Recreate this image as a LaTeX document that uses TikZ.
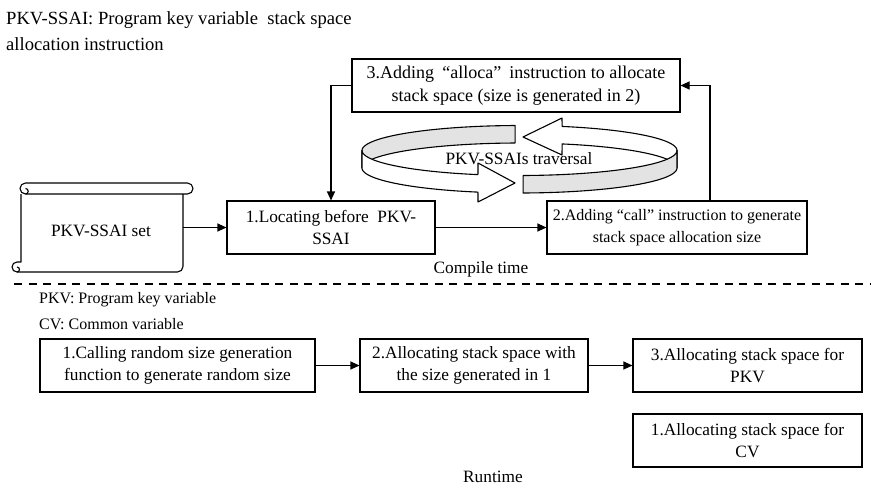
\documentclass[tikz,border=0pt]{standalone}
\usepackage{fontspec}
\setmainfont{Liberation Serif}
\usetikzlibrary{arrows.meta}
\begin{document}
\begin{tikzpicture}[x=1pt,y=-1pt,
  every node/.style={font=\fontsize{17.3}{21.5}\selectfont},
  box/.style={draw,line width=1.1pt,minimum height=53pt,align=center,inner sep=0pt},
  conn/.style={draw,line width=1.1pt,-{Triangle[length=9pt,width=8pt]}},
  plain/.style={anchor=west,inner sep=0pt},
  ring/.style={draw,line width=1.1pt,line join=round},
  grayband/.style={ring,fill=gray!22},
  whiteband/.style={ring,fill=white}]
\useasboundingbox (0,0) rectangle (871,488);

% legend texts
\node[plain,font=\fontsize{18.6}{22}\selectfont] (t1) at (6,20) {PKV-SSAI: Program key variable\ \ stack space};
\node[plain,font=\fontsize{18.6}{22}\selectfont] (t2) at (6,44) {allocation instruction};

% boxes (compile time)
\node[box,minimum width=328pt,font=\fontsize{18}{22.5}\selectfont] (b3) at (516,85.5) {3.Adding\hspace{0.45em}“alloca”\hspace{0.45em}instruction to allocate\\stack space (size is generated in 2)};
\node[box,minimum width=208pt] (b1) at (331,227.5) {1.Locating before\ \ PKV-\\SSAI};
\node[box,minimum width=260pt,font=\fontsize{16}{21.5}\selectfont] (b2) at (677,227.5) {2.Adding “call” instruction to generate\\stack space allocation size};

% scroll
\node[minimum width=162pt,minimum height=89pt,inner sep=0pt] (sc) at (102,227.5) {};
\node (sctext) at (101,231) {PKV-SSAI set};
\draw[line width=1.1pt,line join=round]
  (25.5,183) -- (187.5,183) arc[start angle=270,end angle=450,radius=5.5]
  -- (25.5,194) arc[start angle=90,end angle=270,radius=5.5] -- cycle;
\draw[line width=1.1pt] (25.5,188.5) arc[start angle=270,end angle=450,radius=2.75];
\draw[line width=1.1pt,line join=round]
  (183,194) -- (183,266.5) arc[start angle=0,end angle=90,radius=5.5]
  -- (17,272) arc[start angle=90,end angle=270,radius=5] -- (21,262) -- (21,194);
\draw[line width=1.1pt] (17,267) arc[start angle=270,end angle=450,radius=2.5];

% ring arrows
\def\cx{519.5}\def\ea{157.5}\def\eb{25}\def\yt{150.5}\def\yb{168}
\path[grayband] plot[domain=91.6:180,samples=40] ({\cx+\ea*cos(\x)},{\yt-\eb*sin(\x)})
  -- plot[domain=180:91.6,samples=40] ({\cx+\ea*cos(\x)},{\yb-\eb*sin(\x)}) -- cycle;
\path[whiteband] plot[domain=180:254.7,samples=40] ({\cx+\ea*cos(\x)},{\yt-\eb*sin(\x)})
  -- (478,163) -- (515,183) -- (478,202)
  -- plot[domain=254.7:180,samples=40] ({\cx+\ea*cos(\x)},{\yb-\eb*sin(\x)}) -- cycle;
\path[whiteband] plot[domain=0:74.3,samples=40] ({\cx+\ea*cos(\x)},{\yt-\eb*sin(\x)})
  -- (562,118) -- (523,137) -- (562,155)
  -- plot[domain=74.3:0,samples=40] ({\cx+\ea*cos(\x)},{\yb-\eb*sin(\x)}) -- cycle;
\path[grayband] plot[domain=271.3:360,samples=40] ({\cx+\ea*cos(\x)},{\yt-\eb*sin(\x)})
  -- plot[domain=360:271.3,samples=40] ({\cx+\ea*cos(\x)},{\yb-\eb*sin(\x)}) -- cycle;
\node (trav) at (519,159) {PKV-SSAIs traversal};

% compile-time connectors
\draw[conn] (sc.east) -- (b1.west);
\draw[conn] (b1.east) -- (b2.west);
\draw[conn] ([xshift=33pt]b2.north) |- (b3.east);
\draw[conn] (b3.west) -| (b1.north);

\node (ct) at (481,269) {Compile time};
\draw[line width=1.3pt,dash pattern=on 8pt off 6.5pt] (14,284) -- (871,284);

\node[plain,font=\fontsize{16}{20}\selectfont] (t3) at (39,300) {PKV: Program key variable};
\node[plain,font=\fontsize{16}{20}\selectfont] (t4) at (39,324) {CV: Common variable};

% runtime boxes
\node[box,minimum width=275pt] (ra) at (177.5,365.5) {1.Calling random size generation\\function to generate random size};
\node[box,minimum width=228pt] (rb) at (474,365.5) {2.Allocating stack space with\\the size generated in 1};
\node[box,minimum width=229pt] (rc) at (747.5,365.5) {3.Allocating stack space for\\PKV};
\node[box,minimum width=229pt] (rd) at (747.5,440.5) {1.Allocating stack space for\\CV};
\draw[conn] (ra.east) -- (rb.west);
\draw[conn] (rb.east) -- (rc.west);
\node (rt) at (493,477) {Runtime};
\end{tikzpicture}
\end{document}
